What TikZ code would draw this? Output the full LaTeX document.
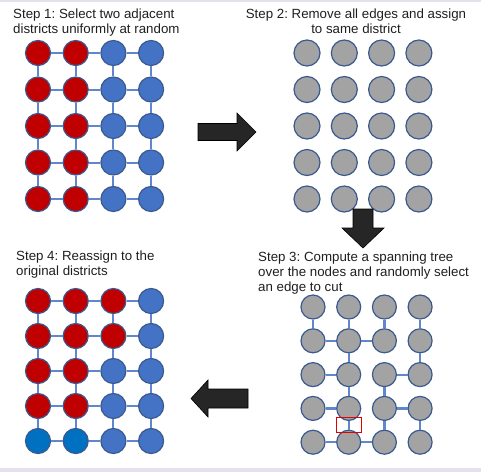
\documentclass[tikz,border=0pt]{standalone}
\usepackage{fontspec}
\setmainfont{Liberation Sans}
\usetikzlibrary{calc}
\frenchspacing
\definecolor{distred}{HTML}{C00000}
\definecolor{distblue}{HTML}{4472C4}
\definecolor{distnavy}{HTML}{0070C0}
\definecolor{nodegrey}{HTML}{A3A3A3}
\definecolor{rimblue}{HTML}{3A5A8F}
\definecolor{bandlilac}{HTML}{E6E0EE}
\begin{document}
\begin{tikzpicture}[x=1pt,y=-1pt,
	cell/.style={circle,draw=rimblue,line width=1.2pt,minimum size=#1,inner sep=0},
	cell/.default=25pt,
	rd/.style={fill=distred}, bl/.style={fill=distblue},
	nv/.style={fill=distnavy}, gr/.style={fill=nodegrey},
	link/.style={draw=distblue!85!white,line width=2pt},
	caption/.style={inner sep=0,font=\fontsize{13.3}{15}\selectfont,text=black!88},
	blockarrow/.style={fill=black!85,draw=black,line width=0.6pt}]
\useasboundingbox (0,0) rectangle (481,472);
\fill[bandlilac] (0,0) rectangle (481,1.5);
\fill[bandlilac] (0,468) rectangle (481,472);

\node[caption,anchor=north west,align=left] (t1) at (13,9)
	{Step 1: Select two adjacent\\districts uniformly at random};
\node[caption,anchor=north,align=center] (t2) at (356,9)
	{Step 2: Remove all edges and assign\\to same district};
\node[caption,anchor=north west,align=left] (t3) at (258,251.5)
	{Step 3: Compute a spanning tree\\over the nodes and randomly select\\an edge to cut};
\node[caption,anchor=north west,align=left] (t4) at (16,251)
	{Step 4: Reassign to the\\original districts};

\foreach \r in {1,...,5} {
	\foreach \c/\k in {1/rd,2/rd,3/bl,4/bl}
		\node[cell,\k] (a-\r-\c) at ({38+37.7*(\c-1)},{53+36.5*(\r-1)}) {};
	\foreach \c in {1,...,4}
		\node[cell=26pt,gr] (b-\r-\c) at ({307+37.3*(\c-1)},{53+36.5*(\r-1)}) {};
	\foreach \c in {1,...,4}
		\node[cell=24pt,gr] (c-\r-\c) at ({313+35.7*(\c-1)},{307+33.8*(\r-1)}) {};
}
\foreach \r/\row in {1/{rd,rd,rd,bl},2/{rd,rd,rd,bl},3/{rd,rd,bl,bl},4/{rd,rd,bl,bl},5/{nv,nv,bl,bl}}
	\foreach \k [count=\c] in \row
		\node[cell,\k] (d-\r-\c) at ({38+37.7*(\c-1)},{301+35*(\r-1)}) {};

\foreach \g in {a,d} {
	\foreach \r in {1,...,5}
		\foreach \c/\n in {1/2,2/3,3/4}
			\draw[link] (\g-\r-\c.east) -- (\g-\r-\n.west);
	\foreach \r/\n in {1/2,2/3,3/4,4/5}
		\foreach \c in {1,...,4}
			\draw[link] (\g-\r-\c.south) -- (\g-\n-\c.north);
}
\foreach \p/\q in {1-1/2-1,1-2/2-2,1-3/2-3,1-4/2-4,2-2/3-2,2-4/3-4,3-2/4-2,3-3/4-3,
	4-2/5-2,4-3/5-3,4-4/5-4,2-1/2-2,2-2/2-3,3-1/3-2,3-3/3-4,4-1/4-2,4-3/4-4,5-1/5-2,5-2/5-3}
	\draw[link,line width=2.2pt] (c-\p) -- (c-\q);
\node[draw=red!90!black,line width=1.2pt,minimum width=25pt,minimum height=15pt,inner sep=0]
	(cut) at ($(c-4-2)!.5!(c-5-2)$) {};

\draw[blockarrow] (198,123.5) -- (237,123.5) -- (237,113) -- (256,132)
	-- (237,151) -- (237,140.5) -- (198,140.5) -- cycle;
\draw[blockarrow] (353,209) -- (373,209) -- (373,228) -- (384,228)
	-- (363,248) -- (342,228) -- (353,228) -- cycle;
\draw[blockarrow] (248,389) -- (208,389) -- (208,380) -- (191,398.5)
	-- (208,417) -- (208,408) -- (248,408) -- cycle;
\end{tikzpicture}
\end{document}
